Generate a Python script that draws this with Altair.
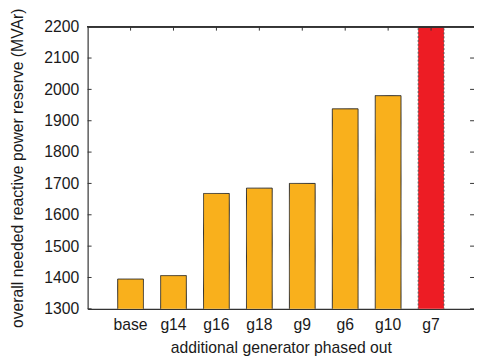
import altair as alt
import pandas as pd

categories = ["base", "g14", "g16", "g18", "g9", "g6", "g10", "g7"]
reserve = [1395, 1406, 1668, 1685, 1700, 1938, 1980, 2200]
status = ["feasible"] * 7 + ["critical"]
y_ticks = [1300, 1400, 1500, 1600, 1700, 1800, 1900, 2000, 2100, 2200]

W, H = 393, 287
FONT = "Liberation Sans"
INK = "#333333"
FS = 16

bars_df = pd.DataFrame({"gen": categories, "reserve": reserve, "status": status})
ticks_df = pd.DataFrame({"reserve": y_ticks})

xscale = alt.Scale(domain=categories, paddingInner=0, paddingOuter=0.5)
yscale = alt.Scale(domain=[1300, 2200], zero=False, nice=False)
xaxis = alt.Axis(title="additional generator phased out", ticks=False,
                 labelAngle=0, labelPadding=8, titlePadding=7,
                 domainColor=INK, domainWidth=1.2)
yaxis = alt.Axis(title="overall needed reactive power reserve (MVAr)",
                 values=y_ticks, ticks=False, labelPadding=9, format="d",
                 titlePadding=19, domainColor=INK, domainWidth=1.2)

bars = alt.Chart(bars_df).mark_bar(width={"band": 0.6}, strokeWidth=1, clip=True).encode(
    x=alt.X("gen:N", scale=xscale, sort=categories, axis=xaxis),
    y=alt.Y("reserve:Q", scale=yscale, axis=yaxis),
    color=alt.Color("status:N", scale=alt.Scale(domain=["feasible", "critical"],
                                                range=["#F9B01C", "#ED1C24"]), legend=None),
    stroke=alt.Stroke("status:N", scale=alt.Scale(domain=["feasible", "critical"],
                                                  range=["#2a2a2a", "#555555"]), legend=None),
    strokeDash=alt.StrokeDash("status:N", scale=alt.Scale(domain=["feasible", "critical"],
                                                          range=[[1, 0], [2, 2]]), legend=None),
)

left_ticks = alt.Chart(ticks_df).mark_rule(color=INK, strokeWidth=1).encode(
    y=alt.Y("reserve:Q", scale=yscale, axis=yaxis),
    x=alt.value(0), x2=alt.value(4),
)
right_ticks = alt.Chart(ticks_df).mark_rule(color=INK, strokeWidth=1).encode(
    y=alt.Y("reserve:Q", scale=yscale, axis=yaxis),
    x=alt.value(W - 4), x2=alt.value(W),
)
top_ticks = alt.Chart(bars_df).mark_rule(color=INK, strokeWidth=1).encode(
    x=alt.X("gen:N", scale=xscale, sort=categories, axis=xaxis),
    y=alt.value(0), y2=alt.value(4),
)
top_border = alt.Chart(ticks_df).mark_rule(color=INK, strokeWidth=1.2).encode(
    x=alt.value(0), x2=alt.value(W), y=alt.value(0),
)

chart = alt.layer(bars, top_ticks, left_ticks, right_ticks, top_border).properties(
    width=W, height=H,
    autosize=alt.AutoSizeParams(type="none"),
    padding={"left": 81, "top": 16, "right": 0, "bottom": 47},
).configure_view(stroke=None).configure_axis(
    grid=False, labelFont=FONT, titleFont=FONT, labelFontSize=FS, titleFontSize=FS,
    titleFontWeight="normal", labelColor="#1a1a1a", titleColor="#1a1a1a",
)

chart.save("out.html", embed_options={"renderer": "svg", "actions": False})
